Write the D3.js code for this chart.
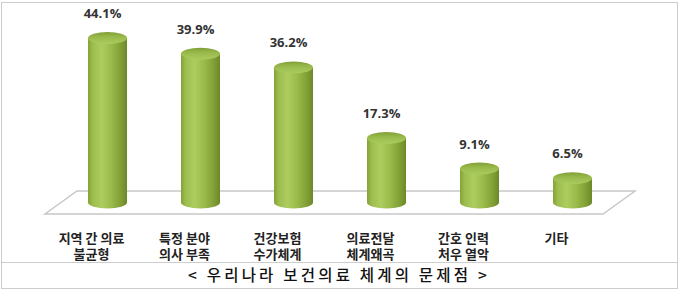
<!DOCTYPE html>
<html>
<head>
<meta charset="utf-8">
<script src="https://cdn.jsdelivr.net/npm/d3@7.9.0/dist/d3.min.js"></script>
<style>
  html, body { margin: 0; padding: 0; background: #fff; }
  svg { display: block; }
</style>
</head>
<body>
<svg id="chart" width="680" height="291"></svg>
<script>
// data
const categories = ["지역 간 의료|불균형", "특정 분야|의사 부족", "건강보험|수가체계", "의료전달|체계왜곡", "간호 인력|처우 열악", "기타"];
const values = [44.1, 39.9, 36.2, 17.3, 9.1, 6.5];
const caption = "< 우리나라 보건의료 체계의 문제점 >";

const W = 680, H = 291;
const svg = d3.select("#chart");

// floor geometry (3d look)
const frontY = 214;
const depthX = 32, depthY = 23;

const x = d3.scaleBand()
    .domain(categories)
    .range([45, 603])
    .paddingInner(0);

const y = d3.scaleLinear()
    .domain([0, 50])
    .range([frontY - depthY / 2, 16]);

const rx = 19.5, ry = 6;

const defs = svg.append("defs");
const bodyGrad = defs.append("linearGradient").attr("id", "body").attr("x1", 0).attr("x2", 1).attr("y1", 0).attr("y2", 0);
[[0, "#84a338"], [0.12, "#9dbd4e"], [0.35, "#adcd60"], [0.6, "#9aba4a"], [0.85, "#809e35"], [1, "#6c8829"]]
  .forEach(([o, c]) => bodyGrad.append("stop").attr("offset", o).attr("stop-color", c));
const topGrad = defs.append("linearGradient").attr("id", "top").attr("x1", 0).attr("x2", 0).attr("y1", 0).attr("y2", 1);
[[0, "#809e37"], [0.4, "#98b94a"], [1, "#aacb5e"]]
  .forEach(([o, c]) => topGrad.append("stop").attr("offset", o).attr("stop-color", c));

// outer dotted frame + caption separator
svg.append("rect")
    .attr("x", 1.5).attr("y", 2.5).attr("width", W - 4).attr("height", H - 5)
    .attr("fill", "none").attr("stroke", "#9a9a9a").attr("stroke-dasharray", "1,1");
svg.append("line")
    .attr("x1", 1.5).attr("x2", W - 2.5).attr("y1", 262.5).attr("y2", 262.5)
    .attr("stroke", "#9a9a9a").attr("stroke-dasharray", "1,1");

// floor
const [x0, x1] = x.range();
svg.append("path")
    .attr("d", `M${x0},${frontY} L${x1},${frontY} L${x1 + depthX},${frontY - depthY} L${x0 + depthX},${frontY - depthY} Z`)
    .attr("fill", "none")
    .attr("stroke", "#c8c8c8")
    .attr("stroke-width", 1.5);

// cylinders
const cx = d => x(d.cat) + x.bandwidth() / 2 + depthX / 2;
const data = categories.map((c, i) => ({ cat: c, value: values[i] }));

const bars = svg.append("g").selectAll("g").data(data).join("g");

bars.append("path")
    .attr("d", d => {
      const l = cx(d) - rx, r = cx(d) + rx;
      const yt = y(d.value), yb = y(0);
      return `M${l},${yt} L${l},${yb} A${rx},${ry} 0 0 0 ${r},${yb} L${r},${yt} Z`;
    })
    .attr("fill", "url(#body)");

bars.append("ellipse")
    .attr("cx", cx)
    .attr("cy", d => y(d.value))
    .attr("rx", rx)
    .attr("ry", ry)
    .attr("fill", "url(#top)");

// value labels
bars.append("text")
    .attr("x", d => cx(d) - 5)
    .attr("y", d => y(d.value) - 20)
    .attr("text-anchor", "middle")
    .attr("font-family", "'Open Sans', sans-serif")
    .attr("font-weight", "bold")
    .attr("font-size", 13)
    .attr("fill", "#333")
    .text(d => d.value.toFixed(1) + "%");

// category labels (two lines, one text per line)
const lines = data.flatMap(d => d.cat.split("|").map((s, i) => ({ s, i, c: x(d.cat) + x.bandwidth() / 2 })));
svg.append("g").selectAll("text").data(lines).join("text")
    .attr("x", t => t.c)
    .attr("y", t => 243 + t.i * 15.5)
    .attr("text-anchor", "middle")
    .attr("font-family", "'Noto Sans CJK KR', sans-serif")
    .attr("font-weight", "bold")
    .attr("font-size", 13)
    .attr("fill", "#222")
    .text(t => t.s);

// caption
svg.append("text")
    .attr("x", 339)
    .attr("y", 281)
    .attr("text-anchor", "middle")
    .attr("font-family", "'Noto Sans CJK KR', sans-serif")
    .attr("font-size", 15.5)
    .attr("font-weight", 500)
    .attr("letter-spacing", 3.2)
    .attr("fill", "#111")
    .text(caption);
</script>
</body>
</html>
